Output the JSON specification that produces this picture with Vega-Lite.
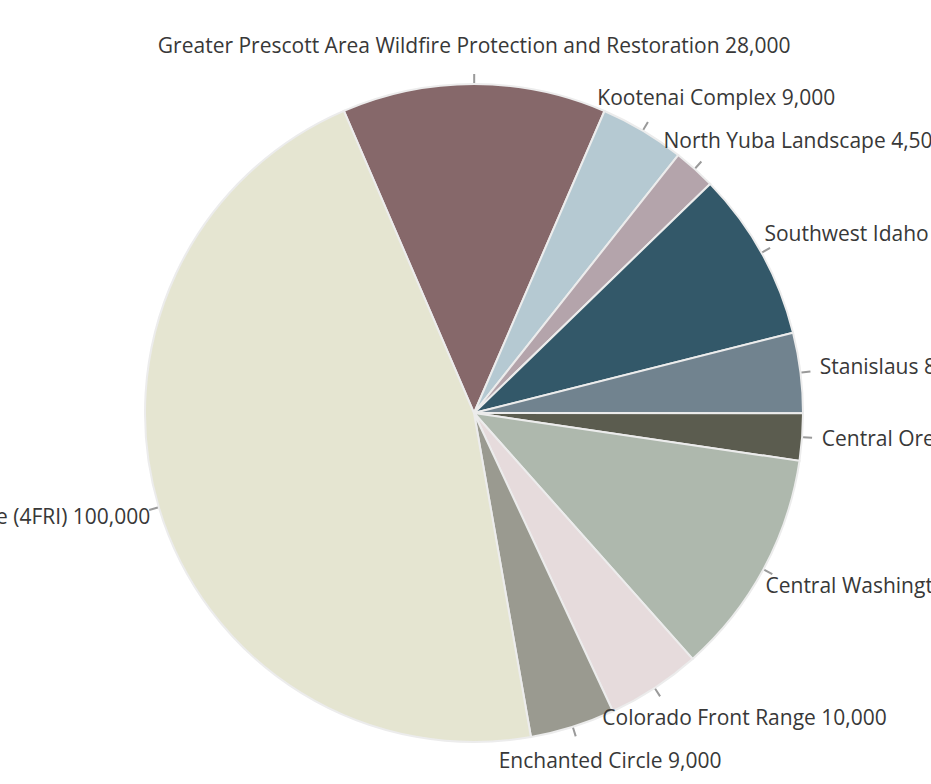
{
  "$schema": "https://vega.github.io/schema/vega-lite/v6.json",
  "width": 914,
  "height": 742,
  "autosize": {"type": "none"},
  "padding": {"left": 17, "top": 42, "right": 0, "bottom": 0},
  "background": "white",
  "config": {"view": {"stroke": null}},
  "data": {"values": [
    {"name": "Greater Prescott Area Wildfire Protection and Restoration", "value": 28000, "order": 1},
    {"name": "Kootenai Complex", "value": 9000, "order": 2},
    {"name": "North Yuba Landscape", "value": 4500, "order": 3},
    {"name": "Southwest Idaho", "value": 18000, "order": 4},
    {"name": "Stanislaus", "value": 8500, "order": 5},
    {"name": "Central Oregon", "value": 5000, "order": 6},
    {"name": "Central Washington", "value": 24000, "order": 7},
    {"name": "Colorado Front Range", "value": 10000, "order": 8},
    {"name": "Enchanted Circle", "value": 9000, "order": 9},
    {"name": "Four Forest Restoration Initiative (4FRI)", "value": 100000, "order": 10}
  ]},
  "transform": [
    {"stack": "value", "groupby": [], "sort": [{"field": "order", "order": "ascending"}], "as": ["v0", "v1"]},
    {"joinaggregate": [{"op": "sum", "field": "value", "as": "total"}]},
    {"calculate": "(datum.v0 + datum.v1) / 2", "as": "mid"},
    {"calculate": "datum.mid - 103", "as": "t0"},
    {"calculate": "datum.mid + 103", "as": "t1"},
    {"calculate": "datum.mid / datum.total * 2 * PI - 0.40666", "as": "ang"},
    {"calculate": "sin(datum.ang)", "as": "s"},
    {"calculate": "datum.name + ' ' + format(datum.value, ',')", "as": "label"},
    {"calculate": "length(datum.label) * 10.4", "as": "w"}
  ],
  "layer": [
    {
      "mark": {"type": "arc", "radius": 329, "stroke": "#ececec", "strokeWidth": 2},
      "encoding": {
        "theta": {"field": "v0", "type": "quantitative", "stack": null, "scale": {"domain": [0, 216000], "range": [-0.40666, 5.87653]}},
        "theta2": {"field": "v1"},
        "color": {
          "field": "name", "type": "nominal", "legend": null,
          "scale": {
            "domain": ["Greater Prescott Area Wildfire Protection and Restoration", "Kootenai Complex", "North Yuba Landscape", "Southwest Idaho", "Stanislaus", "Central Oregon", "Central Washington", "Colorado Front Range", "Enchanted Circle", "Four Forest Restoration Initiative (4FRI)"],
            "range": ["#86686a", "#b5c9d2", "#b4a4ab", "#335869", "#71838f", "#5b5c4f", "#aeb8ad", "#e6dbdc", "#9a9a90", "#e5e5d1"]
          }
        }
      }
    },
    {
      "mark": {"type": "arc", "radius": 330, "radius2": 339, "color": "#9a9a9a"},
      "encoding": {
        "theta": {"field": "t0", "type": "quantitative", "stack": null, "scale": {"domain": [0, 216000], "range": [-0.40666, 5.87653]}},
        "theta2": {"field": "t1"}
      }
    },
    {
      "mark": {
        "type": "text", "radius": 349, "fontSize": 21, "font": "Open Sans", "color": "#383838", "baseline": "middle",
        "align": {"expr": "abs(datum.s) < 0.1 ? 'center' : (datum.s > 0 ? 'left' : 'right')"},
        "dx": {"expr": "abs(datum.s) < 0.1 ? 0 : (datum.s > 0 ? -datum.w / 2 * (1 - datum.s) : datum.w / 2 * (1 + datum.s))"},
        "dy": {"expr": "-17 * cos(datum.ang)"}
      },
      "encoding": {
        "theta": {"field": "mid", "type": "quantitative", "stack": null, "scale": {"domain": [0, 216000], "range": [-0.40666, 5.87653]}},
        "text": {"field": "label"}
      }
    }
  ]
}
